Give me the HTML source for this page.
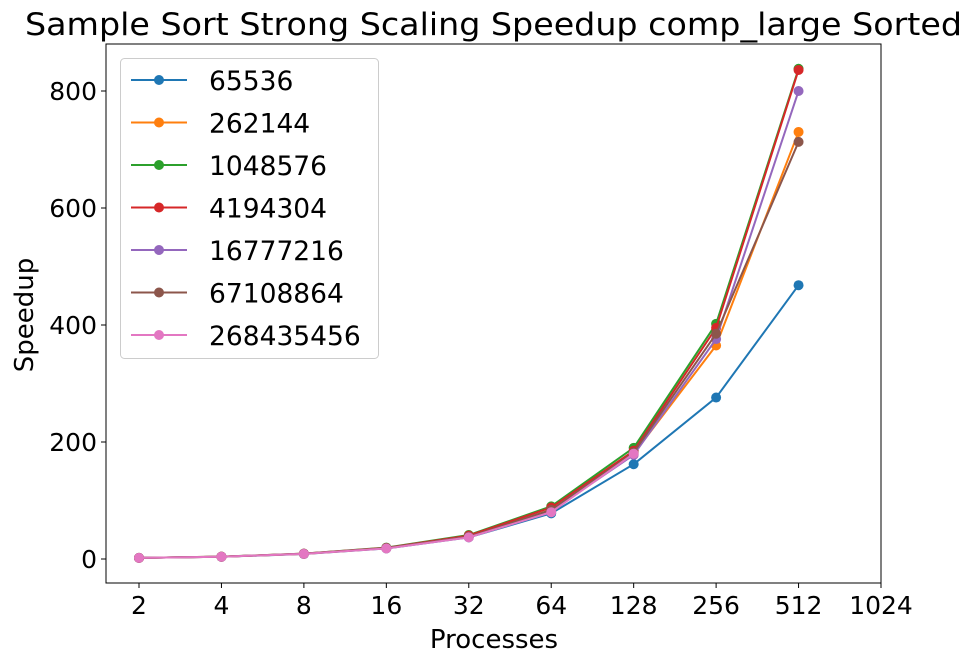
<!DOCTYPE html>
<html><head><meta charset="utf-8"><style>
body{margin:0;background:#fff;}
svg text{font-family:"DejaVu Sans","Liberation Sans",sans-serif;fill:#000;}
</style></head><body>
<svg id="chart" width="973" height="664"></svg>
<script>
const procs=[2,4,8,16,32,64,128,256,512];
const xTickLabels=["2","4","8","16","32","64","128","256","512","1024"];
const yTicks=[0,200,400,600,800];
const seriesNames=["65536","262144","1048576","4194304","16777216","67108864","268435456"];
const s65536=[1.9,3.8,8.5,18,37,78,162,276,468];
const s262144=[1.9,3.9,8.8,18.5,39,84,180,365,730];
const s1048576=[1.9,4,9.2,19.5,41,90,190,402,838];
const s4194304=[1.9,4,9.1,19,40,88,185,395,836];
const s16777216=[1.9,3.9,8.9,18.5,38,82,178,376,800];
const s67108864=[1.9,3.9,8.9,18.5,38,84,182,385,713];
const s268435456=[1.9,3.9,8.8,18,37,80,180];
const allSeries=[s65536,s262144,s1048576,s4194304,s16777216,s67108864,s268435456];
const colors=["#1f77b4","#ff7f0e","#2ca02c","#d62728","#9467bd","#8c564b","#e377c2"];
const L=106,R=881,T=44,B=583;
const x=p=>139+(Math.log2(p)-1)*(881-139)/9;
const y=v=>559-v*(559-91)/800;
const svg=document.getElementById('chart');
const NS="http://www.w3.org/2000/svg";
function mk(t,a,txt){const e=document.createElementNS(NS,t);for(const k in a)e.setAttribute(k,a[k]);if(txt!==undefined)e.textContent=txt;svg.appendChild(e);return e;}
let e=mk('text',{x:25,y:35,'font-size':31,textLength:937,lengthAdjust:'spacingAndGlyphs'},'Sample Sort Strong Scaling Speedup comp_large Sorted');


xTickLabels.forEach((lb,i)=>{const px=x(Math.pow(2,i+1));
 let t=mk('line',{x1:px,x2:px,y1:B,y2:B+5,stroke:'#000','stroke-width':1});
 
 
 let l=mk('text',{x:px,y:B+31,'font-size':25,'text-anchor':'middle'},lb);
 
 });
yTicks.forEach(v=>{const py=y(v);
 let t=mk('line',{x1:L-5,x2:L,y1:py,y2:py,stroke:'#000','stroke-width':1});
 
 
 let l=mk('text',{x:L-9,y:py+9,'font-size':25,'text-anchor':'end'},String(v));
 
 });
e=mk('text',{x:494,y:648,'font-size':26,'text-anchor':'middle'},'Processes');


e=mk('text',{x:33,y:315,'font-size':26,'text-anchor':'middle',transform:'rotate(-90 33 315)'},'Speedup');


allSeries.forEach((s,i)=>{
 let pl=mk('polyline',{points:s.map((v,j)=>x(procs[j])+','+y(v)).join(' '),fill:'none',stroke:colors[i],'stroke-width':2});
 
 
 s.forEach((v,j)=>{let c=mk('circle',{cx:x(procs[j]),cy:y(v),r:5,fill:colors[i]});
  
  });
});
e=mk('rect',{x:L,y:T,width:R-L,height:B-T,fill:'none',stroke:'#000','stroke-width':1});


e=mk('rect',{x:120.5,y:58.5,width:258,height:300,rx:4,fill:'#fff','fill-opacity':0.8,stroke:'#ccc'});


seriesNames.forEach((n,i)=>{const ly=80+i*42.5;
 let l=mk('line',{x1:131,x2:187,y1:ly,y2:ly,stroke:colors[i],'stroke-width':2});
 
 
 let c=mk('circle',{cx:159,cy:ly,r:5,fill:colors[i]});
 
 
 let t=mk('text',{x:209,y:ly+10,'font-size':26.5}, n);
 
 });
</script>
</body></html>
